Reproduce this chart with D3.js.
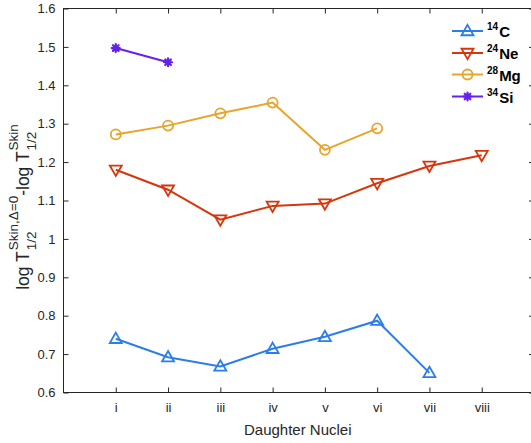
<!DOCTYPE html>
<html>
<head>
<meta charset="utf-8">
<script src="https://cdn.jsdelivr.net/npm/d3@7"></script>
<style>
  body { margin: 0; background: #fff; }
  svg { display: block; font-family: "Liberation Sans", Arial, sans-serif; }
</style>
</head>
<body>
<div id="chart"></div>
<script>
// daughter nuclei positions
var xIndex = [1, 2, 3, 4, 5, 6, 7, 8];
var xLabels = ["i", "ii", "iii", "iv", "v", "vi", "vii", "viii"];
var yTicks = [0.6, 0.7, 0.8, 0.9, 1.0, 1.1, 1.2, 1.3, 1.4, 1.5, 1.6];

// series values (log T diff)
var c14 = [0.740, 0.692, 0.668, 0.714, 0.745, 0.787, 0.651];
var ne24 = [1.180, 1.128, 1.050, 1.086, 1.092, 1.145, 1.190, 1.218];
var mg28 = [1.272, 1.295, 1.327, 1.355, 1.232, 1.288];
var si34 = [1.497, 1.460];

var seriesNames = ["C", "Ne", "Mg", "Si"];
var seriesMass = ["14", "24", "28", "34"];

var width = 531, height = 443;
var mLeft = 63.5, mRight = 534, mTop = 8.5, mBottom = 392.5;
var axisColor = "#262626";

var svg = d3.select("#chart").append("svg")
  .attr("width", width)
  .attr("height", height);

var x = d3.scaleLinear().domain([0, 9]).range([mLeft, mRight]);
var y = d3.scaleLinear().domain([0.6, 1.6]).range([mBottom, mTop]);

// box
svg.append("rect")
  .attr("x", mLeft).attr("y", mTop)
  .attr("width", mRight - mLeft).attr("height", mBottom - mTop)
  .attr("fill", "none").attr("stroke", axisColor).attr("stroke-width", 1);

// axes with inward ticks
var xAxis = d3.axisBottom(x).tickValues(xIndex).tickSize(-5).tickPadding(10)
  .tickFormat(function (d, i) { return xLabels[i]; });
svg.append("g").attr("transform", "translate(0," + mBottom + ")").call(xAxis);
svg.append("g").attr("transform", "translate(0," + mTop + ")")
  .call(d3.axisTop(x).tickValues(xIndex).tickSize(-5).tickFormat(""));

var yAxis = d3.axisLeft(y).tickValues(yTicks).tickSize(-5).tickPadding(8)
  .tickFormat(function (d) { return String(+d.toFixed(1)); });
svg.append("g").attr("transform", "translate(" + mLeft + ",0)").call(yAxis);
svg.append("g").attr("transform", "translate(" + mRight + ",0)")
  .call(d3.axisRight(y).tickValues(yTicks).tickSize(-5).tickFormat(""));

svg.selectAll(".domain").remove();
svg.selectAll(".tick line").attr("stroke", axisColor);
svg.selectAll(".tick text").attr("fill", axisColor).attr("font-size", 13)
  .attr("font-family", "Liberation Sans, Arial, sans-serif");

// x label
svg.append("text")
  .attr("x", (mLeft + mRight) / 2 - 1).attr("y", 435)
  .attr("text-anchor", "middle")
  .attr("font-size", 15).attr("fill", axisColor)
  .text("Daughter Nuclei");

// y label built from pieces (TeX style sup/sub stacked)
var yl = svg.append("g");
var pieces = [
  {t: "log T", k: "main"},
  {t: "Skin,\u0394=0", k: "sup", sub: "1/2"},
  {t: "-log T", k: "main"},
  {t: "Skin", k: "sup", sub: "1/2"}
];
var cursor = 0;
pieces.forEach(function (p) {
  if (p.k == "main") {
    var t = yl.append("text").attr("x", cursor).attr("y", 0)
      .attr("font-size", 17.5).attr("fill", axisColor).text(p.t);
    cursor += t.node().getComputedTextLength();
  } else {
    var s = yl.append("text").attr("x", cursor + 1).attr("y", -11)
      .attr("font-size", 13.5).attr("fill", axisColor).text(p.t);
    var b = yl.append("text").attr("x", cursor + 1).attr("y", 7)
      .attr("font-size", 13.5).attr("fill", axisColor).text(p.sub);
    cursor += Math.max(s.node().getComputedTextLength(), b.node().getComputedTextLength()) + 1;
  }
});
// center along the axis
yl.attr("transform", "translate(29," + (207 + cursor / 2) + ") rotate(-90)");

// series
var series = [
  {vals: c14, color: "#2b7de9", marker: "up"},
  {vals: ne24, color: "#d6360b", marker: "down"},
  {vals: mg28, color: "#e8a52a", marker: "circle"},
  {vals: si34, color: "#6320ee", marker: "star"}
];

var line = d3.line()
  .x(function (d, i) { return x(xIndex[i]); })
  .y(function (d) { return y(d); });

function drawMarker(g, type, cx, cy, color) {
  if (type == "up" || type == "down") {
    var tri = d3.symbol().type(d3.symbolTriangle).size(62)();
    g.append("path").attr("d", tri)
      .attr("transform", "translate(" + cx + "," + (cy + (type == "up" ? 0.8 : -0.8)) + ")" + (type == "down" ? " rotate(180)" : ""))
      .attr("fill", "none").attr("stroke", color).attr("stroke-width", 1.8);
  } else if (type == "circle") {
    g.append("circle").attr("cx", cx).attr("cy", cy).attr("r", 5)
      .attr("fill", "none").attr("stroke", color).attr("stroke-width", 1.8);
  } else {
    var r = 4;
    var star = "";
    [0, 45, 90, 135].forEach(function (a) {
      var rad = a * Math.PI / 180;
      star += "M" + (cx - r * Math.cos(rad)) + "," + (cy - r * Math.sin(rad)) +
        "L" + (cx + r * Math.cos(rad)) + "," + (cy + r * Math.sin(rad));
    });
    g.append("path").attr("d", star).attr("stroke", color).attr("stroke-width", 2.2)
      .attr("stroke-linecap", "round");
    g.append("circle").attr("cx", cx).attr("cy", cy).attr("r", 2.2).attr("fill", color);
  }
}

series.forEach(function (s) {
  var g = svg.append("g");
  g.append("path").datum(s.vals).attr("d", line)
    .attr("fill", "none").attr("stroke", s.color).attr("stroke-width", 2);
  s.vals.forEach(function (v, i) {
    drawMarker(g, s.marker, x(xIndex[i]), y(v), s.color);
  });
});

// legend
var legY = [31, 53, 74.5, 96.5];
series.forEach(function (s, i) {
  var g = svg.append("g");
  g.append("line").attr("x1", 452).attr("x2", 483).attr("y1", legY[i]).attr("y2", legY[i])
    .attr("stroke", s.color).attr("stroke-width", 2);
  drawMarker(g, s.marker, 467.5, legY[i], s.color);
  var t = g.append("text").attr("x", 487).attr("y", legY[i] + 6)
    .attr("font-weight", "bold").attr("fill", "#000");
  t.append("tspan").attr("font-size", 10).attr("dy", -7).text(seriesMass[i]);
  t.append("tspan").attr("font-size", 15).attr("dy", 7).attr("dx", 1).text(seriesNames[i]);
});
</script>
</body>
</html>
